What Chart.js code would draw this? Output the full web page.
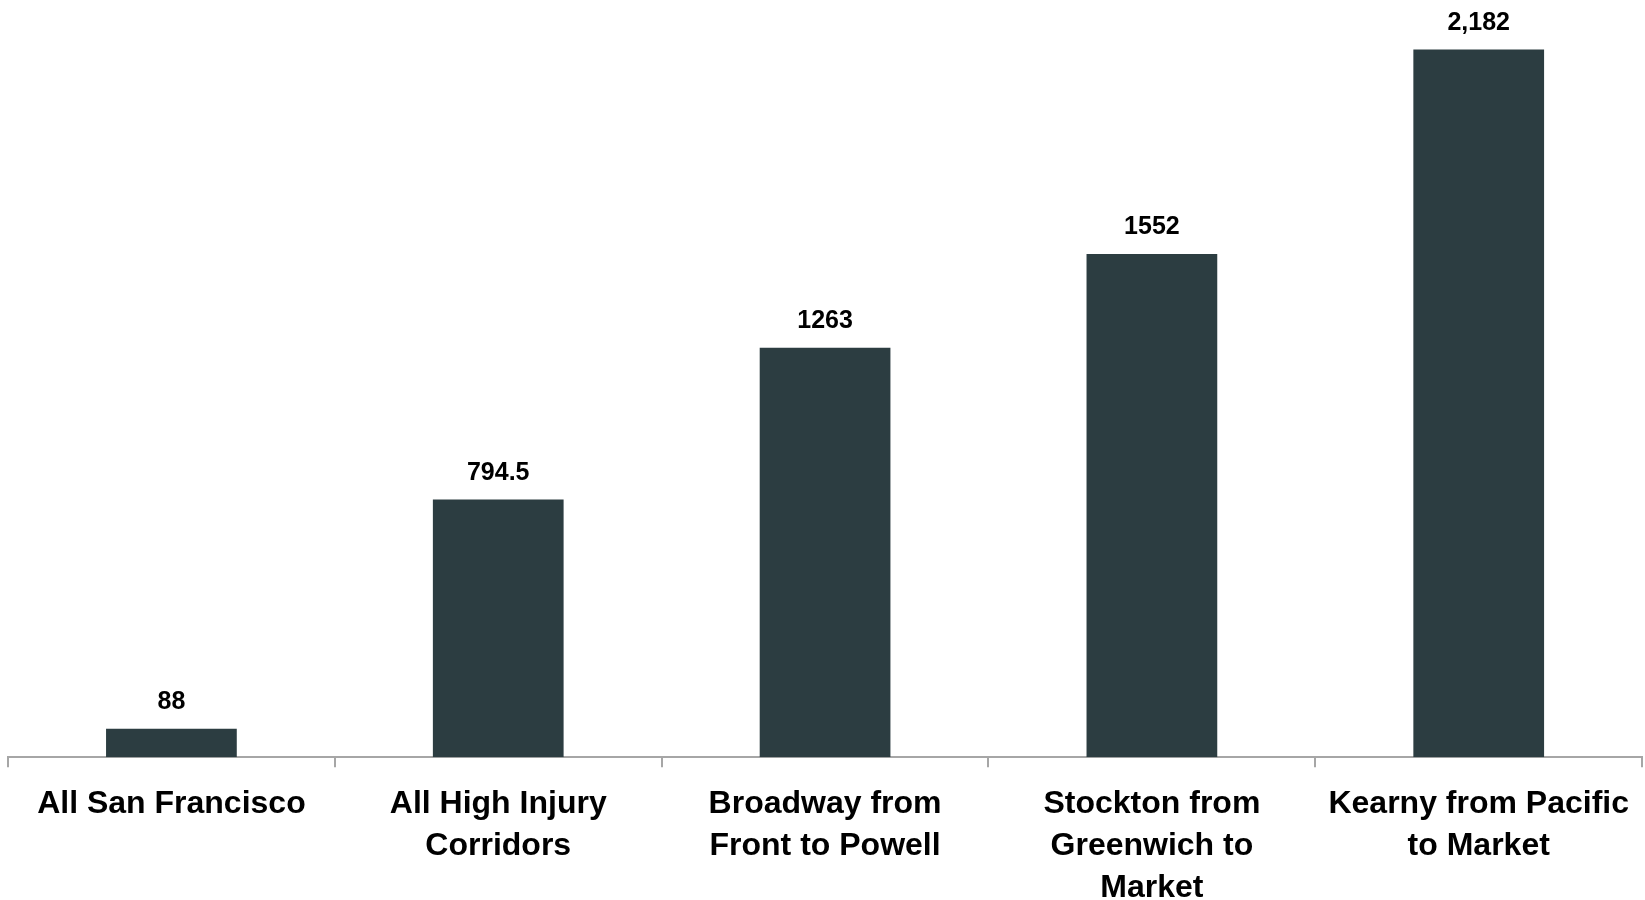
<!DOCTYPE html>
<html>
<head>
<meta charset="utf-8">
<script src="https://cdn.jsdelivr.net/npm/chart.js@4"></script>
<style>
html,body{margin:0;padding:0;background:#fff;overflow:hidden;}
#wrap{width:1645px;height:900px;position:relative;}
</style>
</head>
<body>
<div id="wrap"><canvas id="c" width="1645" height="900"></canvas></div>
<script>
const categories = [
  ["All San Francisco"],
  ["All High Injury", "Corridors"],
  ["Broadway from", "Front to Powell"],
  ["Stockton from", "Greenwich to", "Market"],
  ["Kearny from Pacific", "to Market"]
];
const values = [88, 794.5, 1263, 1552, 2182];
const valueLabels = ["88", "794.5", "1263", "1552", "2,182"];

const valueLabelPlugin = {
  id: 'valueLabels',
  afterDatasetsDraw(chart) {
    const ctx = chart.ctx;
    const meta = chart.getDatasetMeta(0);
    ctx.save();
    ctx.fillStyle = '#000';
    ctx.font = 'bold 25px "Liberation Sans", Arial, sans-serif';
    ctx.textAlign = 'center';
    ctx.textBaseline = 'bottom';
    meta.data.forEach((bar, i) => {
      ctx.fillText(valueLabels[i], bar.x, bar.y - 14);
    });
    ctx.restore();
  }
};

new Chart(document.getElementById('c'), {
  type: 'bar',
  data: {
    labels: categories,
    datasets: [{
      data: values,
      backgroundColor: '#2c3d41',
      borderWidth: 0,
      barPercentage: 0.4,
      categoryPercentage: 1.0
    }]
  },
  options: {
    responsive: false,
    animation: false,
    layout: { padding: { left: 8, right: 0, top: 0, bottom: -25 } },
    plugins: { legend: { display: false }, tooltip: { enabled: false } },
    scales: {
      y: { display: false, min: 0, max: 2335 },
      x: {
        grid: {
          display: true,
          offset: true,
          drawOnChartArea: false,
          drawTicks: true,
          tickLength: 10,
          color: '#a6a6a6',
          lineWidth: 2
        },
        border: { display: true, color: '#a6a6a6', width: 2 },
        ticks: {
          color: '#000',
          maxRotation: 0,
          autoSkip: false,
          padding: 16,
          font: { family: '"Liberation Sans", Arial, sans-serif', size: 32, weight: 'bold', lineHeight: 1.31 }
        }
      }
    }
  },
  plugins: [valueLabelPlugin]
});
</script>
</body>
</html>
